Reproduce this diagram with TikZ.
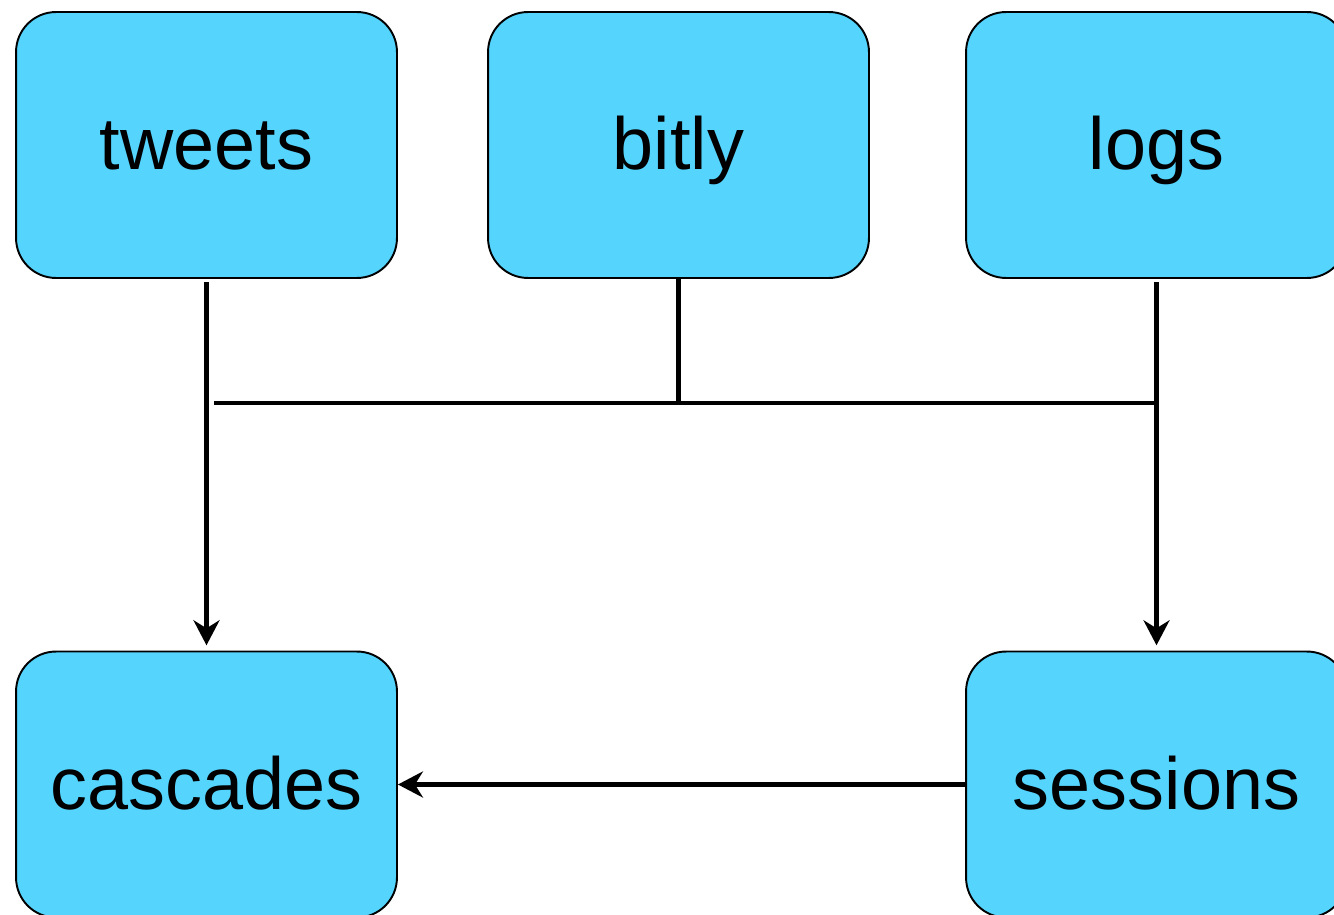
\documentclass[tikz,border=0pt]{standalone}
\usepackage{fontspec}
\setmainfont{Liberation Sans}
\usetikzlibrary{arrows.meta}

\definecolor{boxblue}{RGB}{85,212,254}

\tikzset{
    stage/.style={draw=black, line width=1.1pt, fill=boxblue, rounded corners=0.8cm,
        minimum width=7.62cm, minimum height=5.32cm, inner sep=0pt,
        text height=1.1cm, text depth=0.1cm,
        font=\fontsize{42}{50}\selectfont},
    flow/.style={line width=2.3pt, -{Stealth[length=0.5cm,width=0.52cm,inset=0.16cm]}},
    bus/.style={line width=2.3pt}
}

\begin{document}
\begin{tikzpicture}[x=0.02cm,y=-0.02cm]
    \useasboundingbox (0,0) rectangle (1334,915);
    % sources
    \node[stage] (tweets) at (206.5,145) {tweets};
    \node[stage] (bitly) at (678.5,145) {bitly};
    \node[stage] (logs) at (1156.5,145) {logs};
    % results
    \node[stage] (cascades) at (206.5,784.5) {cascades};
    \node[stage] (sessions) at (1156.5,784.5) {sessions};
    % shared bus
    \coordinate (busl) at (214,403);
    \coordinate (busr) at (logs.south |- busl);
    \draw[bus] (busl) -- (busr);
    \draw[bus] (bitly.south) -- (bitly.south |- busl);
    % arrows
    \draw[flow, shorten <=2pt, shorten >=3pt] (tweets.south) -- (cascades.north);
    \draw[flow, shorten <=2pt, shorten >=3pt] (logs.south) -- (sessions.north);
    \draw[flow] (sessions.west) -- (cascades.east);
\end{tikzpicture}
\end{document}
